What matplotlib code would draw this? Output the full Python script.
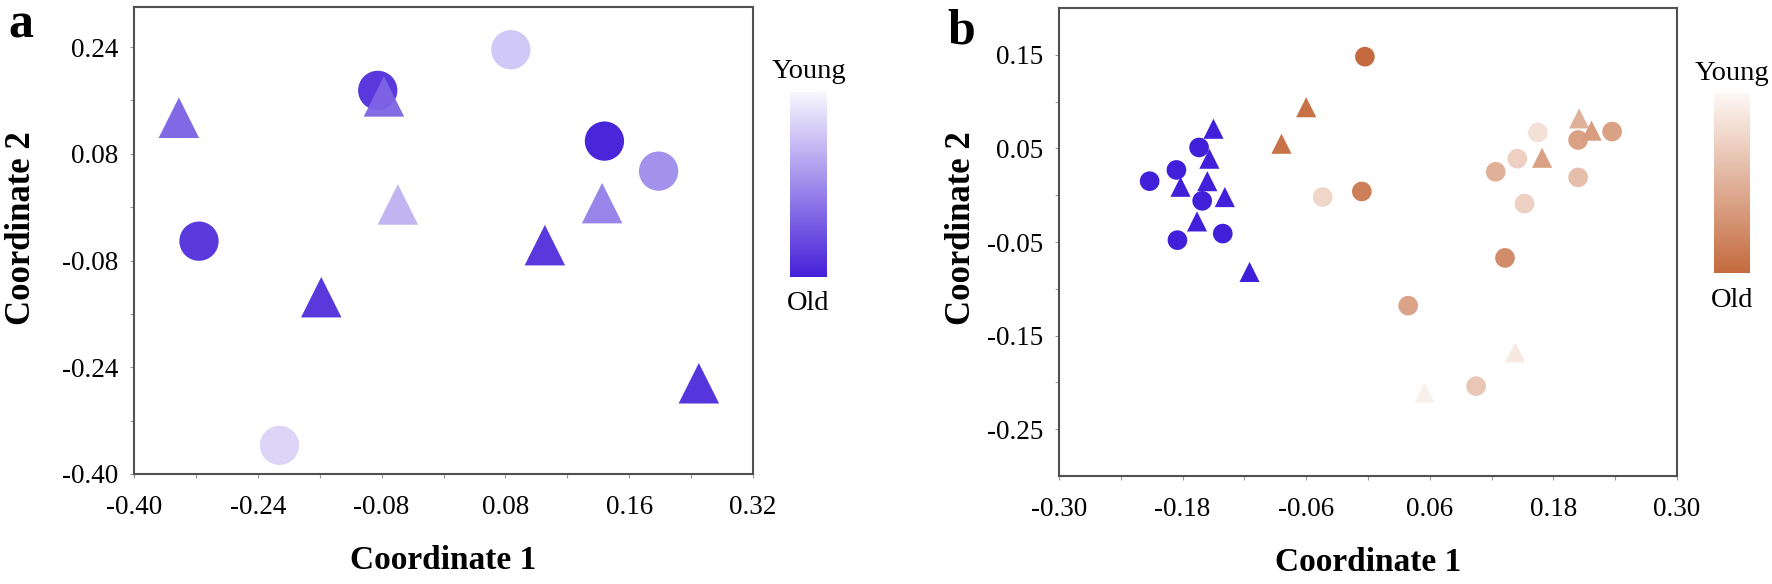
import numpy as np
import matplotlib
matplotlib.use("Agg")
import matplotlib.pyplot as plt
from matplotlib.colors import LinearSegmentedColormap, Normalize
from matplotlib.cm import ScalarMappable

plt.rcParams['font.family'] = ['Liberation Serif', 'DejaVu Serif']

# ---------------- data: panel a ----------------
# age: 0 = young, 1 = old
a_circle_x = [-0.085, 0.087, 0.208, 0.278, -0.316, -0.212]
a_circle_y = [0.175, 0.236, 0.099, 0.054, -0.051, -0.357]
a_circle_age = [0.88, 0.22, 0.97, 0.47, 0.88, 0.16]

a_tri_x = [-0.342, -0.077, -0.059, 0.205, 0.131, -0.158, 0.330]
a_tri_y = [0.134, 0.166, 0.004, 0.006, -0.057, -0.135, -0.264]
a_tri_age = [0.70, 0.68, 0.33, 0.56, 0.93, 0.93, 0.95]

a_xticks = [-0.40, -0.24, -0.08, 0.08, 0.24, 0.40]
a_xticklabels = ['-0.40', '-0.24', '-0.08', '0.08', '0.16', '0.32']
a_yticks = [0.24, 0.08, -0.08, -0.24, -0.40]
a_yticklabels = ['0.24', '0.08', '-0.08', '-0.24', '-0.40']

# ---------------- data: panel b ----------------
b_blue_circle_x = [-0.212, -0.186, -0.164, -0.161, -0.185, -0.141]
b_blue_circle_y = [0.015, 0.027, 0.051, -0.006, -0.048, -0.041]
b_blue_tri_x = [-0.150, -0.154, -0.156, -0.182, -0.139, -0.166, -0.115]
b_blue_tri_y = [0.071, 0.039, 0.015, 0.009, -0.002, -0.028, -0.082]

b_circle_x = [-0.003, -0.006, -0.044, 0.124, 0.145, 0.165, 0.204, 0.237, 0.204, 0.152, 0.133, 0.039, 0.105]
b_circle_y = [0.148, 0.004, -0.002, 0.025, 0.039, 0.067, 0.059, 0.068, 0.019, -0.009, -0.067, -0.118, -0.204]
b_circle_age = [1.00, 0.85, 0.24, 0.51, 0.28, 0.17, 0.61, 0.61, 0.40, 0.28, 0.76, 0.60, 0.35]

b_tri_x = [-0.060, -0.084, 0.205, 0.217, 0.169, 0.143, 0.055]
b_tri_y = [0.094, 0.055, 0.082, 0.069, 0.040, -0.168, -0.211]
b_tri_age = [0.95, 0.95, 0.50, 0.65, 0.62, 0.11, 0.06]

b_xticks = [-0.30, -0.18, -0.06, 0.06, 0.18, 0.30]
b_xticklabels = ['-0.30', '-0.18', '-0.06', '0.06', '0.18', '0.30']
b_yticks = [0.15, 0.05, -0.05, -0.15, -0.25]
b_yticklabels = ['0.15', '0.05', '-0.05', '-0.15', '-0.25']

cmap_a = LinearSegmentedColormap.from_list('young_old_a', ['#f8f7fe', '#4420d8'])
cmap_b = LinearSegmentedColormap.from_list('young_old_b', ['#fdf8f5', '#c46a3e'])
blue = '#4020d8'

W, H = 1772, 584
fig = plt.figure(figsize=(W / 100, H / 100), dpi=100)


def px_axes(l, t, r, b):
    return fig.add_axes([l / W, 1 - b / H, (r - l) / W, (b - t) / H])


def style(ax, xt, xtl, yt, ytl, xlim, ylim, ylab_x):
    ax.set_xlim(*xlim)
    ax.set_ylim(*ylim)
    ax.set_xticks(xt)
    ax.set_xticklabels(xtl)
    ax.set_yticks(yt)
    ax.set_yticklabels(ytl)
    ax.set_xticks([(xt[i] + xt[i + 1]) / 2 for i in range(len(xt) - 1)], minor=True)
    ax.set_yticks([(yt[i] + yt[i + 1]) / 2 for i in range(len(yt) - 1)], minor=True)
    ax.tick_params(which='both', direction='out', length=3, width=0.8, color='#999999',
                   labelsize=19.5)
    ax.tick_params(axis='x', pad=12)
    ax.tick_params(axis='y', pad=8)
    for s in ax.spines.values():
        s.set_color('#505050')
        s.set_linewidth(1.5)
    ax.set_xlabel('Coordinate 1', fontsize=24, fontweight='bold', labelpad=18)
    fig.text(ylab_x / W, 1 - 228 / H, 'Coordinate 2', fontsize=25, fontweight='bold',
             rotation=90, ha='center', va='center')


# ---------------- panel a ----------------
ax1 = px_axes(134, 7, 753, 474)
norm = Normalize(0, 1)
ax1.scatter(a_circle_x, a_circle_y, c=a_circle_age, cmap=cmap_a, norm=norm,
            marker='o', s=800, edgecolors='none', zorder=2)
ax1.scatter(a_tri_x, a_tri_y, c=a_tri_age, cmap=cmap_a, norm=norm,
            marker='^', s=850, edgecolors='none', alpha=0.95, zorder=3)
style(ax1, a_xticks, a_xticklabels, a_yticks, a_yticklabels, (-0.40, 0.40), (-0.40, 0.30), 22)

# ---------------- panel b ----------------
ax2 = px_axes(1059, 8, 1677, 476)
ax2.scatter(b_blue_circle_x, b_blue_circle_y, color=blue, marker='o', s=200,
            edgecolors='none', zorder=2)
ax2.scatter(b_circle_x, b_circle_y, c=b_circle_age, cmap=cmap_b, norm=norm,
            marker='o', s=200, edgecolors='none', zorder=2)
ax2.scatter(b_blue_tri_x, b_blue_tri_y, color=blue, marker='^', s=210,
            edgecolors='none', zorder=3)
ax2.scatter(b_tri_x, b_tri_y, c=b_tri_age, cmap=cmap_b, norm=norm,
            marker='^', s=210, edgecolors='none', zorder=3)
style(ax2, b_xticks, b_xticklabels, b_yticks, b_yticklabels, (-0.30, 0.30), (-0.30, 0.20), 961)

# ---------------- colour bars ----------------
for (l, t, r, b), cm in [((790, 92, 827, 277), cmap_a), ((1714, 93, 1750, 273), cmap_b)]:
    cax = px_axes(l, t, r, b)
    cb = fig.colorbar(ScalarMappable(norm=Normalize(0, 1), cmap=cm.reversed()), cax=cax)
    cb.outline.set_visible(False)
    cb.set_ticks([])
    cx = (l + r) / 2
    fig.text(cx / W, 1 - (t - 20) / H, 'Young', fontsize=20.5, ha='center', va='center')
    fig.text(cx / W, 1 - (b + 27) / H, 'Old', fontsize=20.5, ha='center', va='center')

fig.text(21 / W, 1 - 26 / H, 'a', fontsize=36, fontweight='bold', ha='center', va='center')
fig.text(961 / W, 1 - 31 / H, 'b', fontsize=36, fontweight='bold', ha='center', va='center')

fig.savefig('out.png', dpi=100)
